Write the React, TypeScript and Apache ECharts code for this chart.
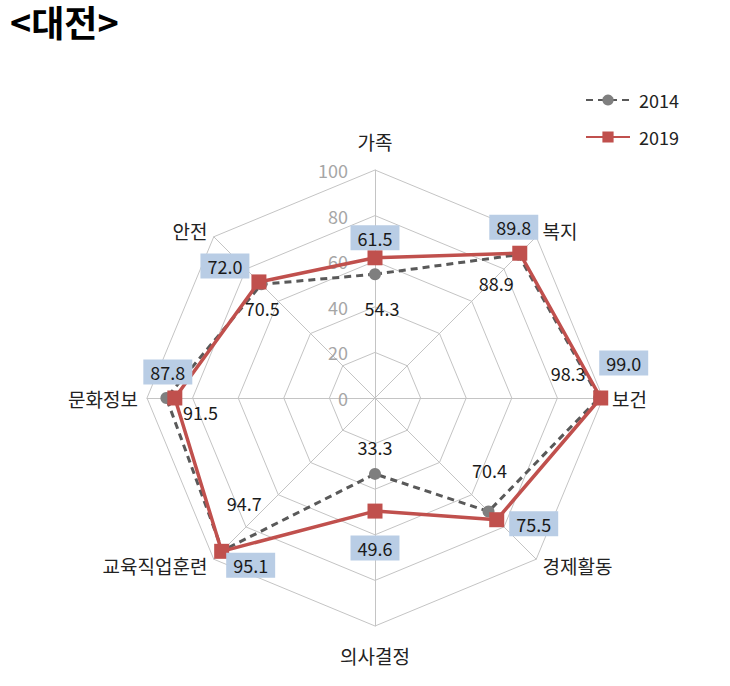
import React, { useEffect, useRef } from 'react';
import * as echarts from 'echarts';

// Indicators, clockwise from the top
const categories = ['가족', '복지', '보건', '경제활동', '의사결정', '교육직업훈련', '문화정보', '안전'];
const seriesNames = ['2014', '2019'];
const values2014 = [54.3, 88.9, 98.3, 70.4, 33.3, 94.7, 91.5, 70.5];
const values2019 = [61.5, 89.8, 99.0, 75.5, 49.6, 95.1, 87.8, 72.0];
const titleText = '<대전>';

// label placement (pixel offsets from each marker)
const offsets2014 = [[7, 34], [-22, 28], [-31, -25], [1, -41], [0, -27], [22, -48], [34, 14], [1, 24]];
const offsets2019 = [[0, -20], [-6, -26], [23, -35], [37, 4], [0, 37], [29, 14], [-7, -26], [-34, -16]];

const FONT = "'Noto Sans CJK KR', 'Noto Sans', sans-serif";
const CENTER = [375, 398];
const RADIUS = 228;

export default function App() {
  const ref = useRef<HTMLDivElement>(null);
  useEffect(() => {
    if (!ref.current) return;
    const chart = echarts.init(ref.current, null, { renderer: 'svg' });
    const step = 360 / categories.length;
    // radar lays indicators counter-clockwise: keep first, reverse the rest
    const radarOrder = [categories[0], ...categories.slice(1).reverse()];
    const topName = categories[0];
    const bottomName = categories[categories.length / 2];

    const makeData = (vals: number[], offs: number[][]) => {
      const d: any[] = vals.map((v, i) => ({
        value: [v, i * step],
        label: { offset: offs[i] },
      }));
      d.push({ value: [vals[0], 360], symbol: 'none', label: { show: false } });
      return d;
    };

    chart.setOption({
      animation: false,
      textStyle: { fontFamily: FONT },
      title: {
        text: titleText,
        left: 10,
        top: 3,
        padding: 0,
        textStyle: { fontSize: 36, lineHeight: 36, fontWeight: 'bold', color: '#000', fontFamily: FONT },
      },
      legend: {
        orient: 'vertical',
        left: 580,
        top: 86,
        itemWidth: 44,
        itemHeight: 14,
        itemGap: 19,
        data: seriesNames,
        textStyle: { fontSize: 18, color: '#222', fontFamily: FONT, padding: [0, 0, 0, 4] },
      },
      radar: {
        center: CENTER,
        radius: RADIUS,
        startAngle: 90,
        splitNumber: 5,
        shape: 'polygon',
        nameGap: 9,
        indicator: radarOrder.map((name) => ({ name, min: 0, max: 100 })),
        axisName: {
          color: '#222',
          fontSize: 19,
          fontFamily: FONT,
          formatter: (name: string) =>
            name === topName ? `{t|${name}}` : name === bottomName ? `{b|${name}}` : name,
          rich: {
            t: { fontSize: 19, color: '#222', fontFamily: FONT, padding: [0, 0, 10, 0] },
            b: { fontSize: 19, color: '#222', fontFamily: FONT, padding: [11, 0, 0, 0] },
          },
        },
        splitLine: { lineStyle: { color: '#c4c4c4', width: 1 } },
        splitArea: { show: false },
        axisLine: { lineStyle: { color: '#c4c4c4', width: 1 } },
        axisTick: { show: false },
        axisLabel: { show: false },
      },
      polar: { center: CENTER, radius: RADIUS },
      angleAxis: { type: 'value', min: 0, max: 360, startAngle: 90, show: false },
      radiusAxis: {
        type: 'value',
        min: 0,
        max: 100,
        interval: 20,
        axisLine: { show: false },
        axisTick: { show: false },
        splitLine: { show: false },
        axisLabel: { color: '#a6a6a6', fontSize: 18, margin: 27, fontFamily: FONT },
        z: 1,
      },
      series: [
        {
          name: seriesNames[0],
          type: 'line',
          coordinateSystem: 'polar',
          z: 3,
          data: makeData(values2014, offsets2014),
          symbol: 'circle',
          symbolSize: 12,
          itemStyle: { color: '#7f7f7f' },
          lineStyle: { color: '#595959', width: 3, type: [7, 5] },
          label: {
            show: true,
            position: 'inside',
            color: '#1a1a1a',
            fontSize: 18,
            fontFamily: FONT,
            formatter: (p: any) => p.value[0].toFixed(1),
          },
        },
        {
          name: seriesNames[1],
          type: 'line',
          coordinateSystem: 'polar',
          z: 4,
          data: makeData(values2019, offsets2019),
          symbol: 'rect',
          symbolSize: 15,
          itemStyle: { color: '#c0504d' },
          lineStyle: { color: '#c0504d', width: 3.5 },
          label: {
            show: true,
            position: 'inside',
            color: '#1a1a1a',
            fontSize: 18,
            fontFamily: FONT,
            backgroundColor: '#b9cde5',
            padding: [4, 7, 3, 7],
            formatter: (p: any) => p.value[0].toFixed(1),
          },
        },
      ],
    });
    return () => chart.dispose();
  }, []);
  return (
    <div
      ref={ref}
      style={{ position: 'absolute', left: 0, top: 0, width: 730, height: 686, background: '#fff' }}
    />
  );
}
